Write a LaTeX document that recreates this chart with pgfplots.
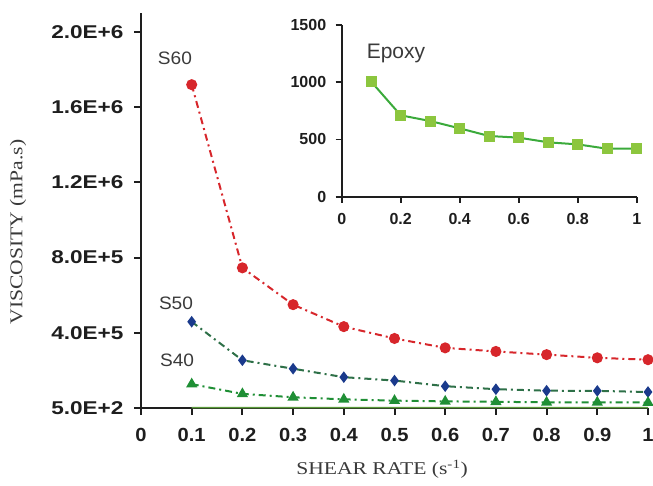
\documentclass[border=0pt]{standalone}
\usepackage{fontspec}
\setmainfont{Liberation Serif}[FakeStretch=1.2]
\newfontfamily\lab[FakeStretch=1.06]{Liberation Sans}
\newfontfamily\laby[FakeStretch=1.22]{Liberation Sans}
\newfontfamily\labi{Liberation Sans}
\usepackage{pgfplots}
\usepackage{pgfplotstable}
\pgfplotsset{compat=1.18}

\definecolor{axisc}{HTML}{1E1E1E}
\definecolor{txtc}{HTML}{3A3A3A}
\definecolor{sixty}{HTML}{D7262B}
\definecolor{fiftyl}{HTML}{2E7048}
\definecolor{fiftym}{HTML}{1A3A8C}
\definecolor{forty}{HTML}{1F8F35}
\definecolor{epl}{HTML}{3BAA3B}
\definecolor{epm}{HTML}{8CC63E}
\definecolor{basel}{HTML}{5A9A3A}

% shear rate vs viscosity (mPa.s)
\pgfplotstableread{
x    S60     S50    S40    Epoxy
0.1  1720000 458000 126000 1005
0.2  745000  253000 74000  711
0.3  549000  208000 56000  661
0.4  432000  163000 45000  597
0.5  369000  145000 38000  530
0.6  319000  115000 34000  516
0.7  300000  99000  32000  475
0.8  283000  91000  29000  457
0.9  266000  90000  29000  419
1.0  256000  84000  28000  419
}\visc

\begin{document}
\begin{tikzpicture}
\useasboundingbox (0,0) rectangle (653pt,486pt);

\begin{axis}[
  at={(141pt,78.3pt)}, anchor=south west,
  scale only axis, width=507pt, height=394.4pt,
  xmin=0, xmax=1, ymin=500, ymax=2100000,
  axis lines*=left,
  axis line style={line width=2.2pt, color=axisc},
  tick align=outside, major tick length=7pt,
  tick style={line width=2pt, color=axisc},
  xtick={0,0.1,0.2,0.3,0.4,0.5,0.6,0.7,0.8,0.9,1},
  xticklabels={0,0.1,0.2,0.3,0.4,0.5,0.6,0.7,0.8,0.9,1},
  ytick={500,400000,800000,1200000,1600000,2000000},
  yticklabels={5.0E+2,4.0E+5,8.0E+5,1.2E+6,1.6E+6,2.0E+6},
  scaled y ticks=false,
  xticklabel style={font={\lab\bfseries\fontsize{19}{19}\selectfont}, text=axisc, yshift=-10pt},
  yticklabel style={font={\laby\bfseries\fontsize{18.5}{18.5}\selectfont}, text=axisc, xshift=-7pt},
  clip=false,
]
\addplot[basel, line width=1.5pt] table[x=x, y=Epoxy] {\visc};
\addplot[sixty, line width=2pt, dash pattern=on 7pt off 4pt on 2pt off 4pt,
  mark=*, mark size=4.5pt, mark options={solid}] table[x=x, y=S60] {\visc};
\addplot[fiftyl, line width=2pt, dash pattern=on 7pt off 4pt on 2pt off 4pt,
  mark=diamond*, mark size=4.2pt, mark options={solid, fill=fiftym, draw=fiftym}] table[x=x, y=S50] {\visc};
\addplot[forty, line width=2pt, dash pattern=on 7pt off 4pt on 2pt off 4pt,
  mark=triangle*, mark size=4.5pt, mark options={solid}] table[x=x, y=S40] {\visc};

\node[text=txtc, font={\lab\fontsize{18}{18}\selectfont}] at (axis cs:0.067,1862000) {S60};
\node[text=txtc, font={\lab\fontsize{18}{18}\selectfont}] at (axis cs:0.069,555000) {S50};
\node[text=txtc, font={\lab\fontsize{18}{18}\selectfont}] at (axis cs:0.071,254000) {S40};
\end{axis}

\begin{axis}[
  at={(341.7pt,289.3pt)}, anchor=south west,
  scale only axis, width=295pt, height=171.7pt,
  xmin=0, xmax=1, ymin=0, ymax=1500,
  axis lines*=left,
  axis line style={line width=2pt, color=axisc},
  tick align=outside, major tick length=6pt,
  tick style={line width=1.8pt, color=axisc},
  xtick={0,0.2,0.4,0.6,0.8,1},
  xticklabels={0,0.2,0.4,0.6,0.8,1},
  ytick={0,500,1000,1500},
  yticklabels={0,500,1000,1500},
  tick label style={font={\labi\bfseries\fontsize{16}{16}\selectfont}, text=axisc},
  xticklabel style={yshift=-7pt},
  yticklabel style={xshift=-6pt},
  clip=false,
]
\addplot[epl, line width=2pt, mark=square*, mark size=4.5pt,
  mark options={fill=epm, draw=epm}] table[x=x, y=Epoxy] {\visc};
\node[text=txtc, font={\labi\fontsize{21}{21}\selectfont}] at (axis cs:0.184,1255) {Epoxy};
\end{axis}

\node[rotate=90, font=\fontsize{18}{18}\selectfont, text=txtc] at (18pt,254pt) {VISCOSITY (mPa.s)};
\node[font=\fontsize{18}{18}\selectfont, text=txtc] at (382pt,17pt) {SHEAR RATE (s\textsuperscript{-1})};
\end{tikzpicture}
\end{document}
